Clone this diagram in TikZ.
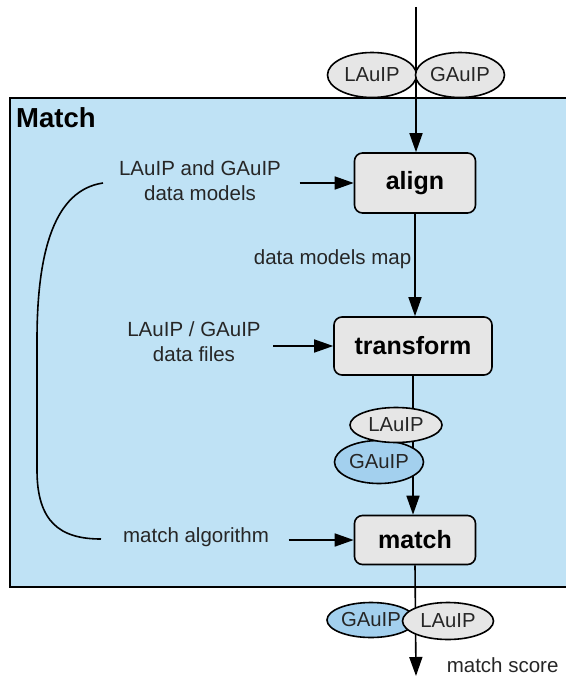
\documentclass[tikz,border=0pt]{standalone}
\usepackage{fontspec}
\setmainfont{Liberation Sans}
\usetikzlibrary{shapes.geometric,arrows.meta}
\definecolor{matchblue}{RGB}{191,226,245}
\definecolor{datablue}{RGB}{163,208,238}
\definecolor{stepgrey}{RGB}{230,230,230}
\definecolor{labelgrey}{RGB}{38,38,38}

\begin{document}
\begin{tikzpicture}[x=1pt,y=-1pt]
  \useasboundingbox (0,0) rectangle (565,677);
  \draw[line width=1.6pt,fill=matchblue] (10,98) rectangle (580,587);
  \node[anchor=base west,inner sep=0pt,font=\bfseries\fontsize{27.5}{30}\selectfont] (title) at (16,127) {Match};
  \begin{scope}[
    line width=1.6pt,
    >={Triangle[length=19pt,width=13pt]},
    stepbox/.style={draw,rounded corners=8pt,fill=stepgrey,inner sep=0pt,
      font=\bfseries\fontsize{25}{28}\selectfont},
    label/.style={align=center,inner sep=0pt,text=labelgrey,
      font=\fontsize{20.5}{25}\selectfont},
    data/.style={draw,ellipse,inner sep=0pt,fill=stepgrey,text=labelgrey,
      font=\fontsize{20.3}{24}\selectfont},
    ]
    % steps
    \node[stepbox,minimum width=121pt,minimum height=60pt] (align) at (415,183) {align};
    \node[stepbox,minimum width=158pt,minimum height=58pt] (transform) at (413,346) {transform};
    \node[stepbox,minimum width=121pt,minimum height=49pt] (match) at (415,540) {match};
    % inputs
    \node[label] (models) at (200,181) {LAuIP and GAuIP\\data models};
    \node[label] (files) at (194,342) {LAuIP / GAuIP\\data files};
    \node[label] (algo) at (196,537) {match algorithm};
    \node[label,anchor=east] (map) at (412,259) {data models map};
    \node[label,anchor=west] (score) at (446,665) {match score};
    \coordinate (in) at (416,7);
    \coordinate (out) at (416,676);
    \coordinate (bt) at (103,183);
    \coordinate (bb) at (101,539);
    % flow
    \draw[->] (in) -- (in |- align.north);
    \draw[->] (align.south) -- (align.south |- transform.north);
    \draw[->] (transform.south) -- (transform.south |- match.north);
    \draw[->] (match.south) -- (out);
    \draw[->,shorten <=18pt] (models.east |- align.west) -- (align.west);
    \draw[->,shorten <=12pt] (files.east |- transform.west) -- (transform.west);
    \draw[->,shorten <=19pt] (algo.east |- match.west) -- (match.west);
    \draw (bt) .. controls (55,190) and (37,250) .. (37,340) -- (37,470)
      .. controls (37,522) and (60,539) .. (bb);
    % data sets
    \node[data,minimum width=89pt,minimum height=45pt] (lin) at (372,75) {LAuIP};
    \node[data,minimum width=89pt,minimum height=45pt] (gin) at (460,75) {GAuIP};
    \node[data,fill=datablue,minimum width=89pt,minimum height=43pt] (gmid) at (379,462) {GAuIP};
    \node[data,minimum width=92pt,minimum height=35pt] (lmid) at (396,425) {LAuIP};
    \node[data,fill=datablue,minimum width=88pt,minimum height=35pt] (gout) at (371,620) {GAuIP};
    \node[data,minimum width=91pt,minimum height=37pt] (lout) at (448,621) {LAuIP};
  \end{scope}
\end{tikzpicture}
\end{document}
